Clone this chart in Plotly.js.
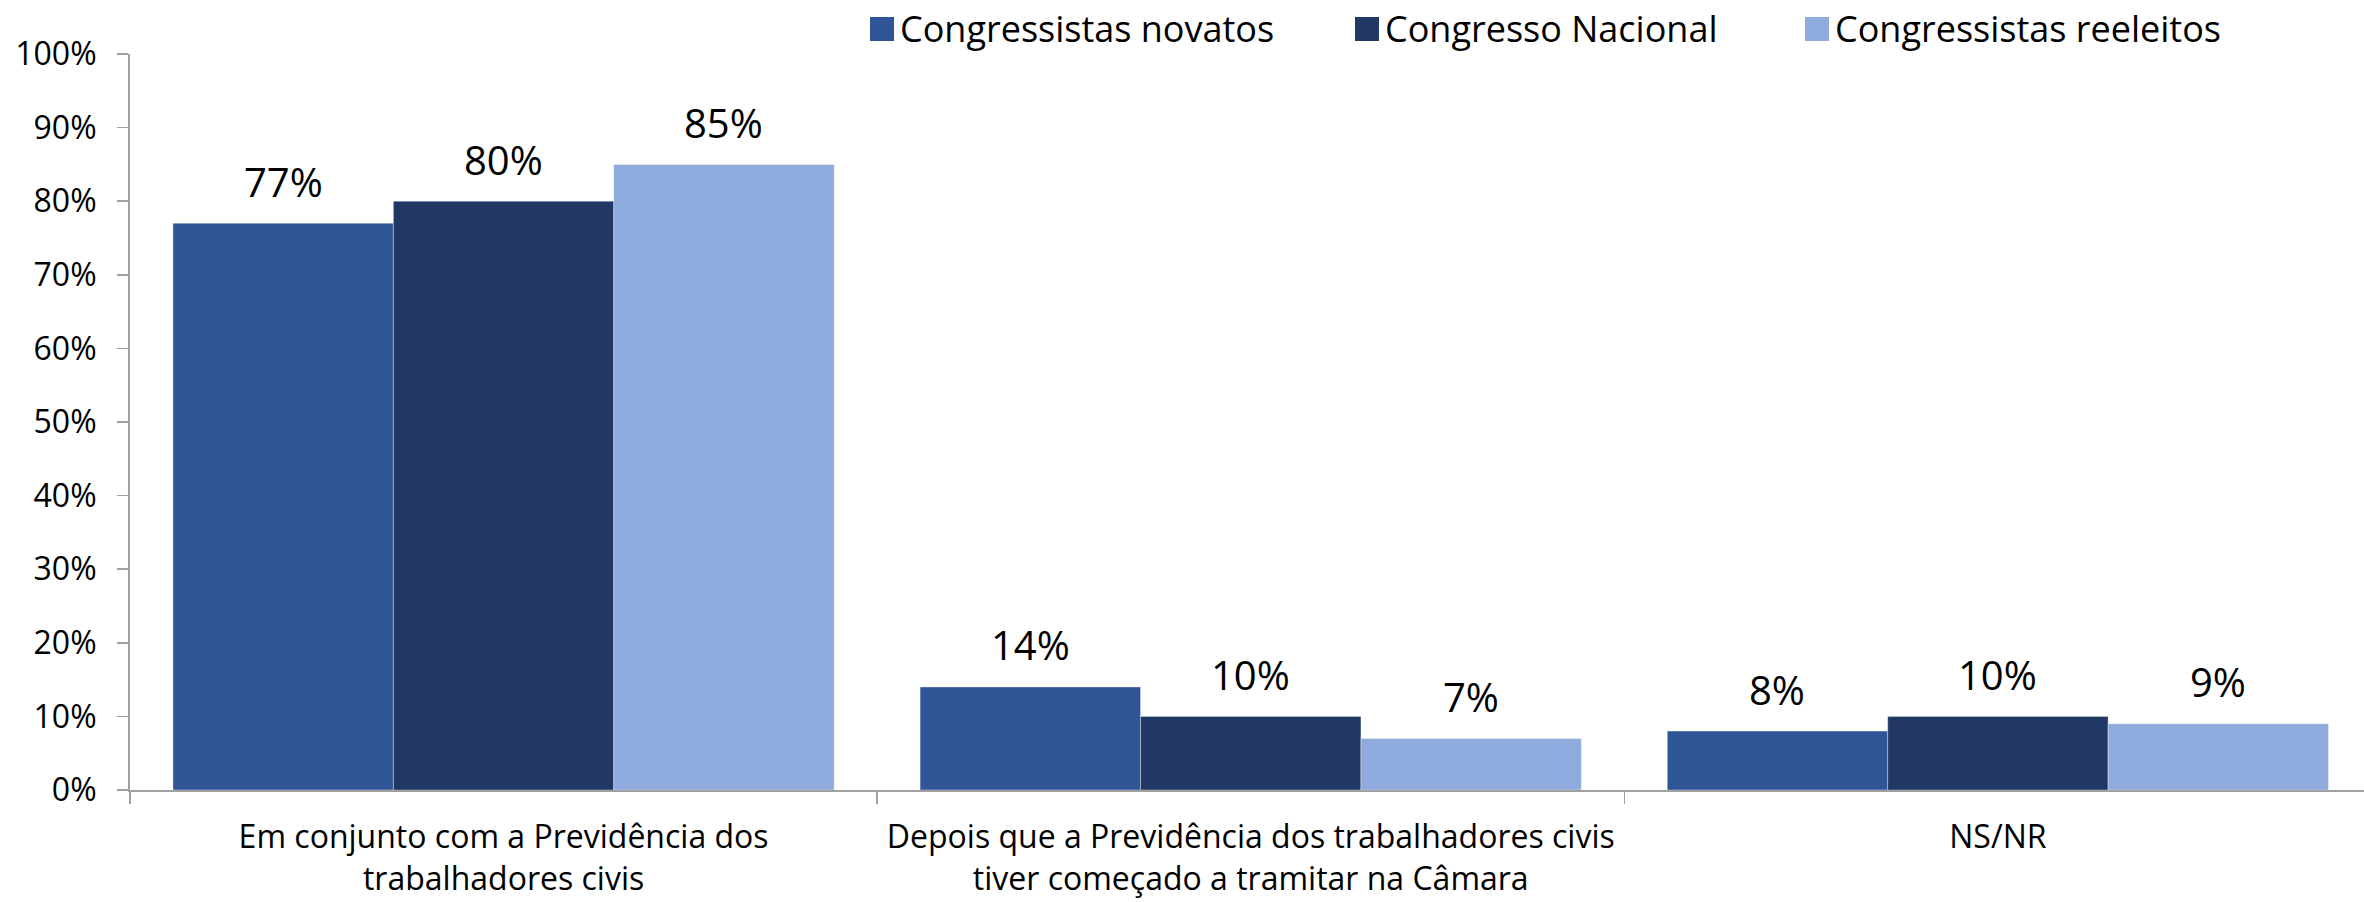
<!DOCTYPE html>
<html>
<head>
<meta charset="utf-8">
<script src="https://cdn.plot.ly/plotly-3.0.1.min.js"></script>
<style>html,body{margin:0;padding:0;background:#fff;}#chart{width:2364px;height:902px;}</style>
</head>
<body>
<div id="chart"></div>
<script>
const categories = [
  "Em conjunto com a Previdência dos<br>trabalhadores civis",
  "Depois que a Previdência dos trabalhadores civis<br>tiver começado a tramitar na Câmara",
  "NS/NR"
];
const seriesNames = ["Congressistas novatos", "Congresso Nacional", "Congressistas reeleitos"];
const novatos = [0.77, 0.14, 0.08];
const nacional = [0.80, 0.10, 0.10];
const reeleitos = [0.85, 0.07, 0.09];
const seriesColors = ["#2F5597", "#213864", "#8FAADC"];

const W = 2364, H = 902;
const M = {l: 130, r: 0, t: 54, b: 112};
const plotW = W - M.l - M.r, plotH = H - M.t - M.b;
const bargap = 0.115;
const xRange = [-0.5, 2.49];
const FONT = "Open Sans, Noto Sans, sans-serif";

const allSeries = [novatos, nacional, reeleitos];
const traces = allSeries.map((vals, k) => ({
  type: "bar",
  name: seriesNames[k],
  x: categories,
  y: vals,
  marker: {color: seriesColors[k], line: {width: 1, color: "rgba(255,255,255,0.35)"}},
  showlegend: false,
  hoverinfo: "skip"
}));

const catW = plotW / (xRange[1] - xRange[0]);
const barW = catW * (1 - bargap) / allSeries.length;
const annotations = [];
allSeries.forEach((vals, k) => {
  vals.forEach((v, i) => {
    annotations.push({
      x: categories[i], y: v, xref: "x", yref: "y",
      xshift: (k - 1) * barW, yshift: 42,
      text: Math.round(v * 100) + "%",
      showarrow: false, xanchor: "center", yanchor: "middle",
      font: {family: FONT, size: 40, color: "#000"}
    });
  });
});

// custom legend
const px2x = px => (px - M.l) / plotW;
const py2y = py => 1 - (py - M.t) / plotH;
const legendSquareX = [870, 1355, 1805];
const shapes = [];
seriesNames.forEach((nm, k) => {
  shapes.push({
    type: "rect", xref: "paper", yref: "paper",
    x0: px2x(legendSquareX[k]), x1: px2x(legendSquareX[k] + 24),
    y0: py2y(41), y1: py2y(17),
    fillcolor: seriesColors[k], line: {width: 0}
  });
  annotations.push({
    xref: "paper", yref: "paper",
    x: px2x(legendSquareX[k] + 28), y: py2y(28),
    xanchor: "left", yanchor: "middle", showarrow: false,
    text: nm, font: {family: FONT, size: 36, color: "#000"}
  });
});

const layout = {
  width: W, height: H,
  margin: M,
  paper_bgcolor: "#fff", plot_bgcolor: "#fff",
  barmode: "group", bargap: bargap, bargroupgap: 0,
  showlegend: false,
  font: {family: FONT, color: "#000"},
  xaxis: {
    type: "category", range: xRange,
    showline: true, linecolor: "#a0a0a0", linewidth: 2,
    ticks: "outside", tickson: "boundaries", ticklen: 12, tickcolor: "#a0a0a0", tickwidth: 1.5,
    tickfont: {family: FONT, size: 32, color: "#000"},
    ticklabelstandoff: 18,
    showgrid: false, zeroline: false, fixedrange: true
  },
  yaxis: {
    range: [0, 1], dtick: 0.1, tickformat: ".0%",
    showline: true, linecolor: "#a0a0a0", linewidth: 2,
    ticks: "outside", ticklen: 11, tickcolor: "#a0a0a0", tickwidth: 1.5,
    tickfont: {family: FONT, size: 32, color: "#000"},
    ticklabelstandoff: 14,
    showgrid: false, zeroline: false, fixedrange: true
  },
  annotations: annotations,
  shapes: shapes
};

Plotly.newPlot("chart", traces, layout, {displayModeBar: false, staticPlot: true});
</script>
</body>
</html>
